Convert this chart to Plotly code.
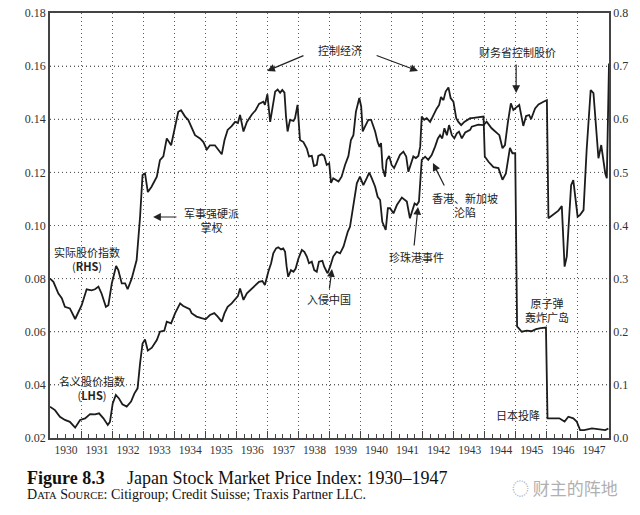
import plotly.graph_objects as go

# ---------------- data ----------------
nominal_year = [1930.00, 1930.16, 1930.32, 1930.48, 1930.64, 1930.81, 1930.97, 1931.13, 1931.29, 1931.45,
                1931.58, 1931.72, 1931.86, 1931.93, 1932.02, 1932.12, 1932.22, 1932.33, 1932.47, 1932.61,
                1932.72, 1932.82, 1932.90, 1932.98, 1933.06, 1933.15, 1933.28, 1933.44, 1933.54, 1933.68,
                1933.76, 1933.90, 1934.03, 1934.19, 1934.29, 1934.40, 1934.50, 1934.56, 1934.72, 1934.88,
                1935.01, 1935.15, 1935.29, 1935.40, 1935.53, 1935.62, 1935.72, 1935.85, 1935.96, 1936.05,
                1936.12, 1936.23, 1936.34, 1936.47, 1936.62, 1936.73, 1936.84, 1936.92, 1937.03, 1937.12,
                1937.19, 1937.28, 1937.35, 1937.44, 1937.51, 1937.57, 1937.62, 1937.67, 1937.76, 1937.84,
                1937.91, 1938.00, 1938.11, 1938.19, 1938.27, 1938.34, 1938.43, 1938.51, 1938.59, 1938.66,
                1938.77, 1938.83, 1938.91, 1938.94, 1939.02, 1939.12, 1939.23, 1939.34, 1939.45, 1939.59,
                1939.66, 1939.77, 1939.88, 1939.98, 1940.09, 1940.20, 1940.28, 1940.36, 1940.47, 1940.55,
                1940.63, 1940.70, 1940.81, 1940.88, 1940.95, 1941.06, 1941.17, 1941.33, 1941.41, 1941.49,
                1941.59, 1941.67, 1941.74, 1941.81, 1941.88, 1941.97, 1942.08, 1942.18, 1942.29, 1942.40,
                1942.49, 1942.56, 1942.63, 1942.70, 1942.78, 1942.85, 1942.94, 1943.02, 1943.10, 1943.17,
                1943.26, 1943.37, 1943.53, 1943.58, 1943.79, 1943.96, 1944.06, 1944.22, 1944.38, 1944.47,
                1944.57, 1944.65, 1944.74, 1944.84, 1944.92, 1945.03, 1945.11, 1945.24, 1945.33, 1945.43,
                1945.49, 1945.62, 1945.73, 1945.89, 1946.00, 1946.05, 1946.21, 1946.37, 1946.48, 1946.57,
                1946.64, 1946.78, 1946.85, 1946.99, 1947.07, 1947.18, 1947.28, 1947.41, 1947.50, 1947.66,
                1947.75, 1947.88, 1947.93, 1948.00]
nominal_lhs = [0.0318, 0.0305, 0.0280, 0.0268, 0.0261, 0.0239, 0.0268, 0.0274, 0.0290, 0.0289,
               0.0293, 0.0274, 0.0249, 0.0261, 0.0330, 0.0362, 0.0349, 0.0327, 0.0318, 0.0337,
               0.0368, 0.0387, 0.0481, 0.0556, 0.0571, 0.0529, 0.0540, 0.0569, 0.0600, 0.0604,
               0.0638, 0.0632, 0.0670, 0.0707, 0.0697, 0.0692, 0.0685, 0.0670, 0.0657, 0.0651,
               0.0647, 0.0663, 0.0670, 0.0657, 0.0638, 0.0670, 0.0694, 0.0707, 0.0720, 0.0734,
               0.0763, 0.0720, 0.0745, 0.0760, 0.0776, 0.0788, 0.0791, 0.0776, 0.0826, 0.0858,
               0.0895, 0.0914, 0.0918, 0.0910, 0.0914, 0.0901, 0.0845, 0.0807, 0.0832, 0.0826,
               0.0838, 0.0876, 0.0908, 0.0901, 0.0883, 0.0858, 0.0864, 0.0832, 0.0826, 0.0864,
               0.0867, 0.0845, 0.0826, 0.0820, 0.0845, 0.0883, 0.0901, 0.0895, 0.0920, 0.0977,
               0.0995, 0.1071, 0.1159, 0.1184, 0.1152, 0.1178, 0.1199, 0.1178, 0.1146, 0.1108,
               0.1096, 0.1014, 0.0983, 0.1065, 0.1065, 0.1046, 0.1077, 0.1105, 0.1096, 0.1090,
               0.1027, 0.1058, 0.1083, 0.1077, 0.1090, 0.1247, 0.1259, 0.1247, 0.1265, 0.1297,
               0.1328, 0.1340, 0.1328, 0.1366, 0.1340, 0.1378, 0.1340, 0.1328, 0.1347, 0.1353,
               0.1328, 0.1350, 0.1360, 0.1372, 0.1380, 0.1378, 0.1391, 0.1366, 0.1347, 0.1340,
               0.1291, 0.1303, 0.1385, 0.1460, 0.1435, 0.1445, 0.1454, 0.1375, 0.1412, 0.1416,
               0.1400, 0.1441, 0.1456, 0.1466, 0.1472, 0.1027, 0.1040, 0.1056, 0.1073, 0.0845,
               0.0883, 0.1152, 0.1171, 0.1033, 0.1040, 0.1058, 0.1284, 0.1510, 0.1498, 0.1253,
               0.1303, 0.1196, 0.1178, 0.1610]

real_year = [1930.00, 1930.11, 1930.27, 1930.38, 1930.48, 1930.64, 1930.81, 1930.91, 1931.02, 1931.18,
             1931.34, 1931.45, 1931.56, 1931.66, 1931.80, 1931.88, 1931.99, 1932.13, 1932.20, 1932.31,
             1932.42, 1932.50, 1932.63, 1932.79, 1932.90, 1932.98, 1933.06, 1933.15, 1933.27, 1933.44,
             1933.54, 1933.65, 1933.76, 1933.90, 1934.03, 1934.13, 1934.22, 1934.35, 1934.45, 1934.56,
             1934.67, 1934.83, 1934.94, 1935.05, 1935.15, 1935.31, 1935.42, 1935.53, 1935.62, 1935.72,
             1935.85, 1935.96, 1936.05, 1936.12, 1936.23, 1936.34, 1936.50, 1936.62, 1936.73, 1936.87,
             1936.92, 1937.00, 1937.09, 1937.16, 1937.25, 1937.33, 1937.41, 1937.48, 1937.55, 1937.60,
             1937.65, 1937.73, 1937.84, 1937.89, 1937.97, 1938.05, 1938.16, 1938.27, 1938.34, 1938.43,
             1938.50, 1938.59, 1938.64, 1938.75, 1938.83, 1938.91, 1938.99, 1939.05, 1939.12, 1939.29,
             1939.39, 1939.50, 1939.61, 1939.69, 1939.77, 1939.85, 1939.96, 1940.02, 1940.07, 1940.15,
             1940.25, 1940.34, 1940.47, 1940.55, 1940.61, 1940.66, 1940.71, 1940.79, 1940.84, 1940.92,
             1941.00, 1941.08, 1941.17, 1941.27, 1941.38, 1941.47, 1941.54, 1941.63, 1941.70, 1941.78,
             1941.86, 1941.92, 1941.97, 1942.05, 1942.13, 1942.24, 1942.34, 1942.45, 1942.53, 1942.59,
             1942.67, 1942.74, 1942.83, 1942.90, 1942.99, 1943.08, 1943.15, 1943.24, 1943.34, 1943.53,
             1943.58, 1943.79, 1943.96, 1944.00, 1944.12, 1944.28, 1944.44, 1944.57, 1944.68, 1944.81,
             1944.89, 1944.98, 1945.00, 1945.02, 1945.04, 1945.19, 1945.35, 1945.50, 1945.65, 1945.80,
             1945.97, 1946.02, 1946.21, 1946.40, 1946.57, 1946.69, 1946.85, 1946.96, 1947.07, 1947.20,
             1947.45, 1947.66, 1947.88, 1947.98]
real_rhs = [0.300, 0.294, 0.272, 0.263, 0.247, 0.244, 0.224, 0.235, 0.250, 0.280,
            0.278, 0.280, 0.285, 0.272, 0.247, 0.250, 0.291, 0.324, 0.316, 0.291,
            0.291, 0.280, 0.300, 0.335, 0.416, 0.495, 0.498, 0.463, 0.473, 0.492,
            0.523, 0.530, 0.564, 0.551, 0.586, 0.614, 0.617, 0.605, 0.599, 0.583,
            0.570, 0.564, 0.557, 0.543, 0.551, 0.551, 0.542, 0.534, 0.561, 0.580,
            0.587, 0.595, 0.593, 0.608, 0.577, 0.595, 0.609, 0.617, 0.629, 0.633,
            0.627, 0.647, 0.595, 0.624, 0.652, 0.656, 0.650, 0.655, 0.650, 0.605,
            0.577, 0.599, 0.597, 0.602, 0.627, 0.561, 0.557, 0.545, 0.530, 0.531,
            0.512, 0.514, 0.531, 0.534, 0.531, 0.514, 0.517, 0.480, 0.489, 0.483,
            0.492, 0.514, 0.531, 0.561, 0.570, 0.614, 0.640, 0.624, 0.577, 0.587,
            0.599, 0.599, 0.577, 0.557, 0.548, 0.555, 0.508, 0.492, 0.523, 0.531,
            0.514, 0.508, 0.520, 0.533, 0.539, 0.530, 0.501, 0.520, 0.530, 0.527,
            0.531, 0.548, 0.605, 0.599, 0.602, 0.595, 0.608, 0.620, 0.627, 0.642,
            0.636, 0.652, 0.660, 0.640, 0.633, 0.602, 0.595, 0.589, 0.595, 0.602,
            0.602, 0.603, 0.605, 0.530, 0.520, 0.510, 0.508, 0.486, 0.498, 0.546,
            0.536, 0.536, 0.420, 0.280, 0.210, 0.200, 0.202, 0.201, 0.205, 0.207,
            0.208, 0.037, 0.037, 0.037, 0.031, 0.040, 0.037, 0.031, 0.015, 0.015,
            0.018, 0.0165, 0.015, 0.018]

year_ticks = list(range(1930, 1948))
year_labels = [str(y) for y in year_ticks]
lhs_ticks = [0.02, 0.04, 0.06, 0.08, 0.10, 0.12, 0.14, 0.16, 0.18]

# ---------------- figure ----------------
LINE = "#1c1c1c"
AX = "#444444"
GRID = "#5a5a5a"
GRID_DASH = "1px,3px"
SERIF = "Liberation Serif"
CJK = "Noto Sans CJK SC"

fig = go.Figure()
fig.add_trace(go.Scatter(x=nominal_year, y=nominal_lhs, mode="lines",
                         line=dict(color=LINE, width=1.8), yaxis="y", showlegend=False,
                         name="名义股价指数 (LHS)"))
fig.add_trace(go.Scatter(x=real_year, y=real_rhs, mode="lines",
                         line=dict(color=LINE, width=1.8), yaxis="y2", showlegend=False,
                         name="实际股价指数 (RHS)"))

fig.update_layout(
    template="none",
    width=640, height=515,
    margin=dict(l=50, r=31, t=13, b=77, autoexpand=False),
    paper_bgcolor="white", plot_bgcolor="white",
    xaxis=dict(range=[1930, 1948], tickvals=year_ticks, ticktext=year_labels, automargin=False,
               ticklabelshift=16, ticks="inside", ticklen=7, tickcolor=AX, tickwidth=1.2,
               showgrid=True, gridcolor=GRID, griddash=GRID_DASH, gridwidth=1,
               showline=True, linecolor=AX, linewidth=1.5, mirror=True, zeroline=False,
               tickfont=dict(family=SERIF, size=11.5, color="#333"),
               minor=dict(tick0=1930, dtick=0.25, ticks="inside", ticklen=4,
                          tickcolor=AX, tickwidth=1.2, showgrid=False)),
    yaxis=dict(range=[0.02, 0.18], tickvals=lhs_ticks, tickformat=".2f", automargin=False,
               showgrid=True, gridcolor=GRID, griddash=GRID_DASH, gridwidth=1,
               showline=True, linecolor=AX, linewidth=1.5, zeroline=False,
               ticks="", tickfont=dict(family=SERIF, size=12, color="#333")),
    yaxis2=dict(range=[0, 0.8], tick0=0, dtick=0.1, tickformat=".1f", overlaying="y",
                automargin=False, side="right", showgrid=False, showline=True, linecolor=AX,
                linewidth=1.5, zeroline=False, ticks="",
                tickfont=dict(family=SERIF, size=12, color="#333")),
)

# horizontal dotted grid (drawn at the left-axis tick values)
for v in lhs_ticks[1:-1]:
    fig.add_shape(type="line", xref="paper", yref="y", x0=0, x1=1, y0=v, y1=v,
                  line=dict(color=GRID, width=1, dash=GRID_DASH), layer="below")

tfont = dict(family=CJK, size=11, color="#222")

# text labels (data coordinates: year, LHS value)
labels = [
    ("控制经济", 1939.34, 0.1661),
    ("财务省控制股价", 1945.04, 0.1653),
    ("军事强硬派<br>掌权", 1935.19, 0.1021),
    ("实际股价指数<br>(<b>RHS</b>)", 1931.19, 0.0874),
    ("名义股价指数<br>(<b>LHS</b>)", 1931.35, 0.0388),
    ("入侵中国", 1938.99, 0.0723),
    ("珍珠港事件", 1941.79, 0.0881),
    ("香港、新加坡<br>沦陷", 1943.37, 0.1077),
    ("原子弹<br>轰炸广岛", 1946.01, 0.0682),
    ("日本投降", 1945.07, 0.0287),
]
for txt, x, y in labels:
    fig.add_annotation(x=x, y=y, xref="x", yref="y", text=txt, showarrow=False,
                       font=tfont, xanchor="center", yanchor="middle")

# arrows: (head_x, head_y, tail_x, tail_y)
arrows = [
    (1936.99, 0.1582, 1938.21, 0.1642),
    (1941.85, 0.1582, 1940.47, 0.1642),
    (1945.01, 0.1499, 1945.01, 0.1612),
    (1933.32, 0.1032, 1934.12, 0.1032),
    (1939.08, 0.0836, 1938.99, 0.0757),
    (1941.85, 0.1070, 1941.72, 0.0919),
    (1942.33, 0.1235, 1942.72, 0.1145),
]
for hx, hy, tx, ty in arrows:
    fig.add_annotation(x=hx, y=hy, xref="x", yref="y", ax=tx, ay=ty, axref="x", ayref="y",
                       text="", showarrow=True, arrowhead=2, arrowsize=1.3, arrowwidth=1.2,
                       arrowcolor="#222")

# caption
fig.add_annotation(x=-25 / 559, y=-40 / 425, xref="paper", yref="paper", xanchor="left",
                   yanchor="middle", showarrow=False, text="<b>Figure 8.3</b>",
                   font=dict(family=SERIF, size=18, color="#111"))
fig.add_annotation(x=75 / 559, y=-40 / 425, xref="paper", yref="paper", xanchor="left",
                   yanchor="middle", showarrow=False,
                   text="Japan Stock Market Price Index: 1930–1947",
                   font=dict(family=SERIF, size=18, color="#111"))
fig.add_annotation(x=-25 / 559, y=-56 / 425, xref="paper", yref="paper", xanchor="left",
                   yanchor="middle", showarrow=False,
                   text="D<span style='font-size:10.5px'>ATA</span> S<span style='font-size:10.5px'>OURCE</span>: Citigroup; Credit Suisse; Traxis Partner LLC.",
                   font=dict(family=SERIF, size=14, color="#111"))
fig.add_annotation(x=515 / 559, y=-49 / 425, xref="paper", yref="paper",
                   xanchor="center", yanchor="middle", showarrow=False,
                   text="◌ 财主的阵地", font=dict(family=CJK, size=17, color="#b0b0b0"))

fig.write_html("out.html", config={"displayModeBar": False},
               post_script="document.body.style.margin='0px';document.body.style.overflow='hidden';")
